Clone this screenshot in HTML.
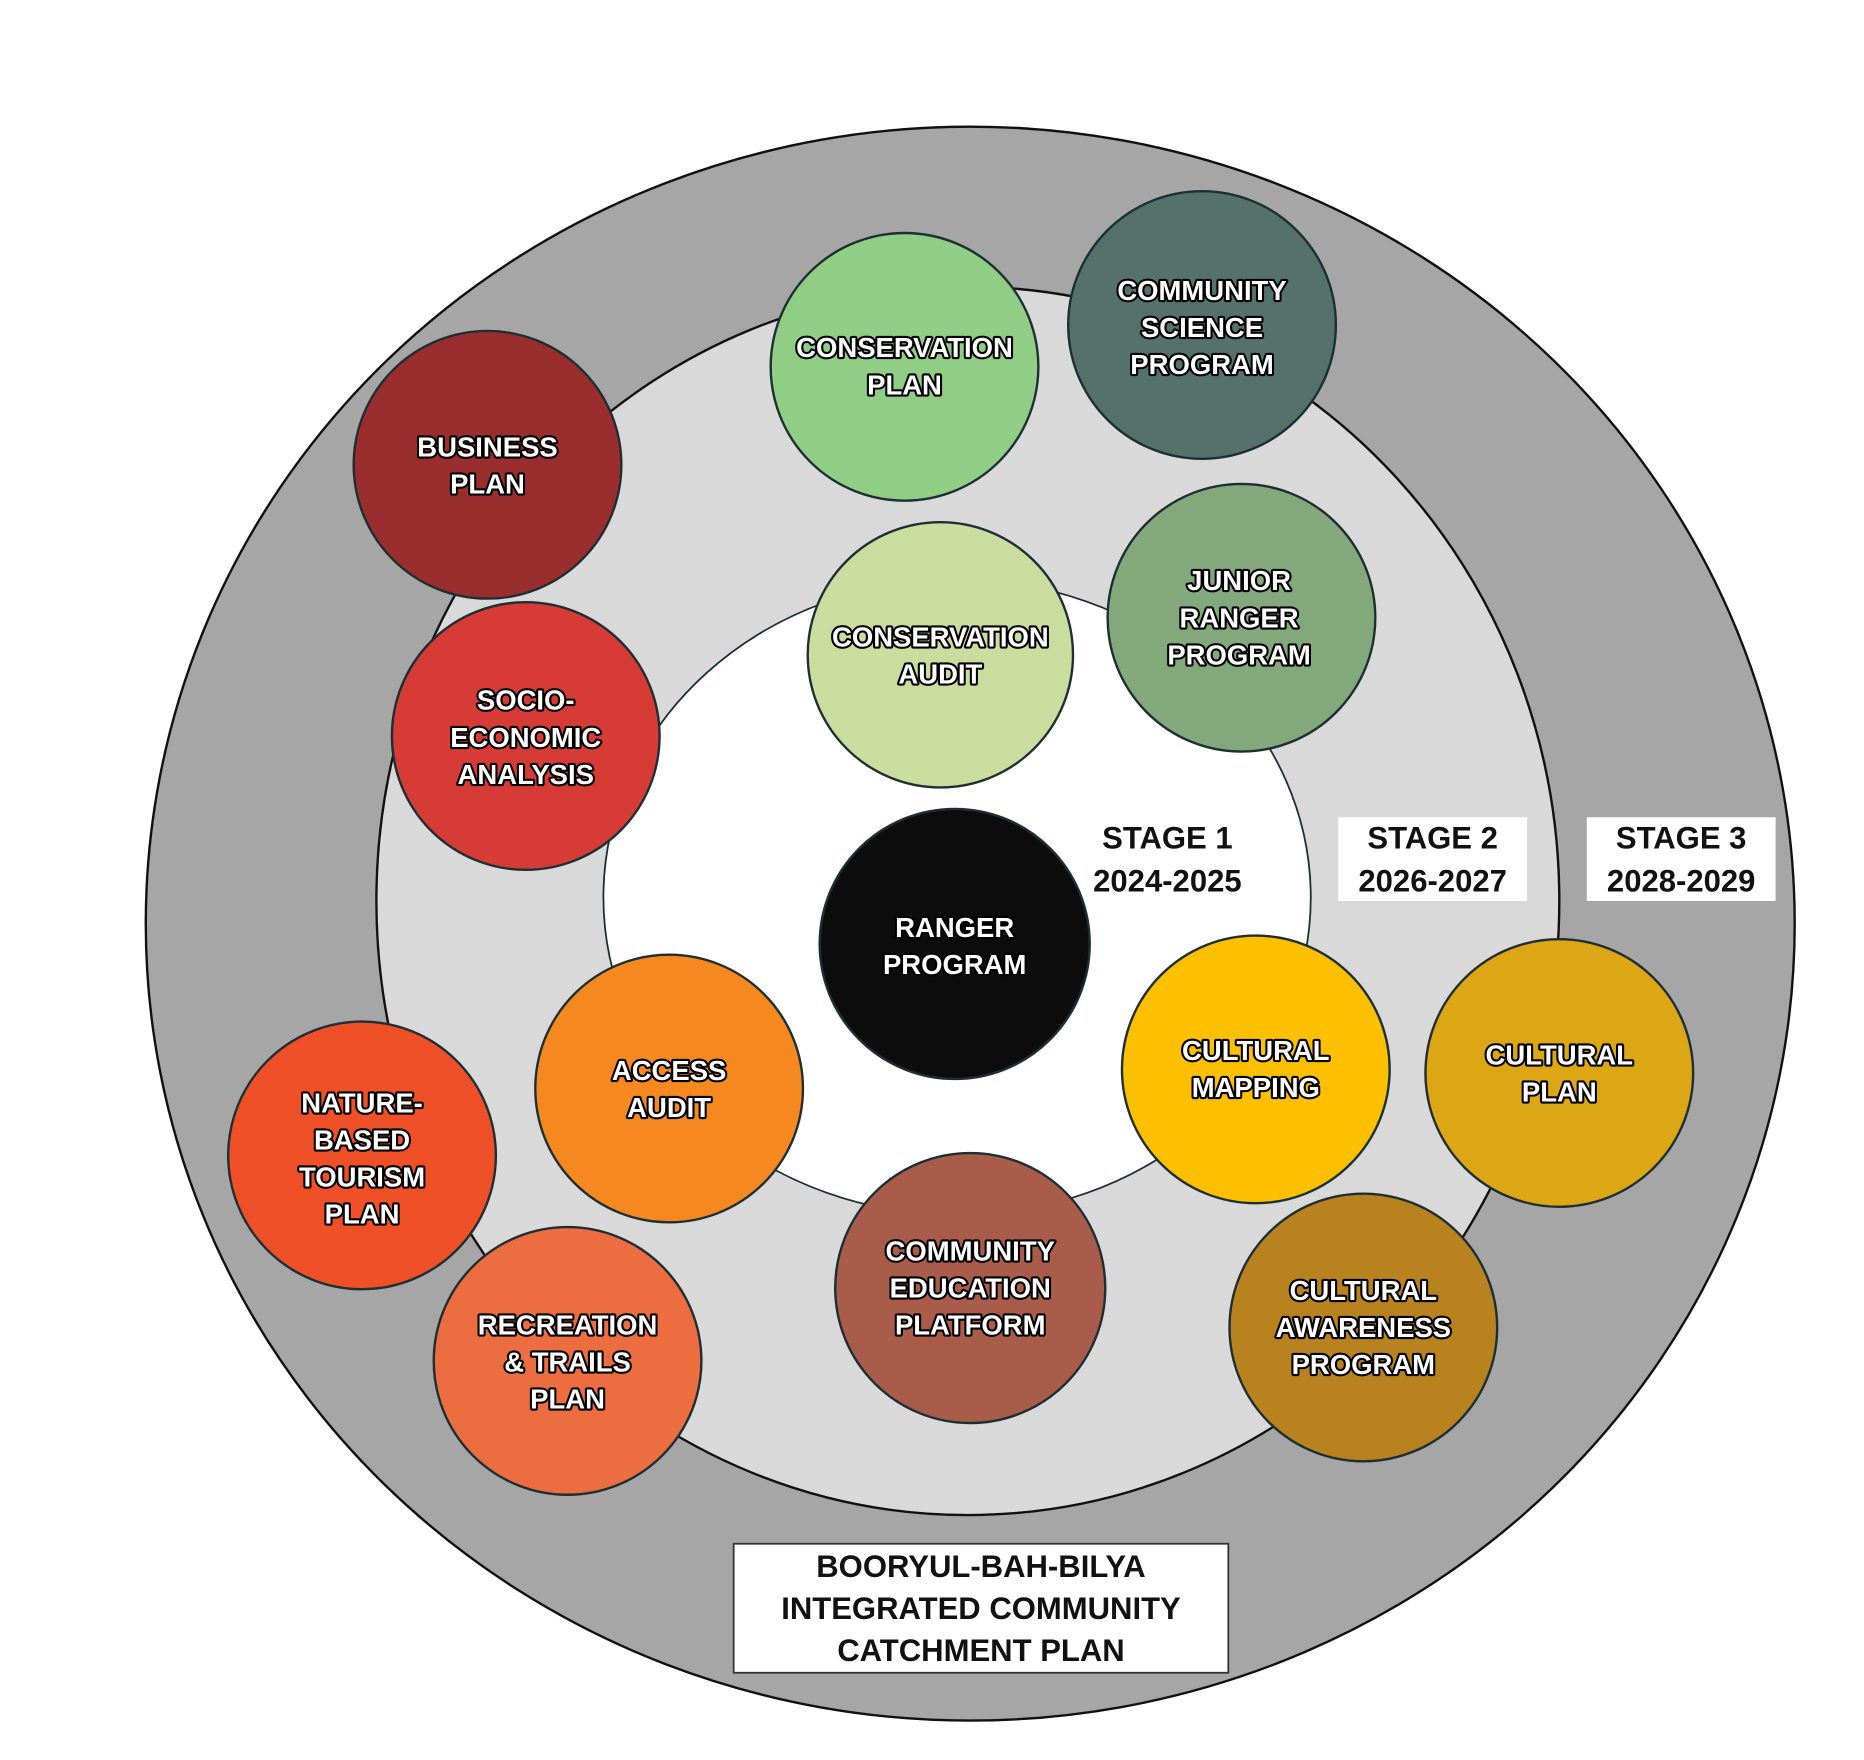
<!DOCTYPE html>
<html><head><meta charset="utf-8"><style>
html,body{margin:0;padding:0;background:#fff;}
svg{display:block}
.t{font-family:"Liberation Sans",sans-serif;font-weight:bold;font-size:23px;fill:#fff;stroke:#000;stroke-width:3.5px;paint-order:stroke;stroke-linejoin:round;text-anchor:middle}
.s{font-family:"Liberation Sans",sans-serif;font-weight:bold;font-size:26px;fill:#111;text-anchor:middle}
.c{stroke:#1e2f33;stroke-width:2}
</style></head><body>
<svg width="1864" height="1760" viewBox="0 0 1560 1473" preserveAspectRatio="none">
<rect width="1560" height="1473" fill="#fff"/>
<ellipse cx="812" cy="773" rx="690" ry="667" fill="#a6a6a6" stroke="#111" stroke-width="2"/>
<ellipse cx="810" cy="754" rx="495" ry="514" fill="#d9d9d9" stroke="#111" stroke-width="2"/>
<ellipse cx="801" cy="751" rx="296" ry="266" fill="#fff" stroke="#1e2f33" stroke-width="1.5"/>

<g class="c">
<circle cx="757" cy="307" r="112" fill="#8fce84"/>
<circle cx="1006" cy="272" r="112" fill="#55726a"/>
<circle cx="408" cy="389" r="112" fill="#9a2e2e"/>
<circle cx="787" cy="548" r="111" fill="#cbdd9e"/>
<circle cx="1039" cy="517" r="112" fill="#83a87c"/>
<circle cx="440" cy="616" r="112" fill="#d63c35"/>
<circle cx="799" cy="790" r="113" fill="#0c0c0c"/>
<circle cx="560" cy="911" r="112" fill="#f5891f"/>
<circle cx="303" cy="967" r="112" fill="#ef5028"/>
<circle cx="1051" cy="895" r="112" fill="#fdc000"/>
<circle cx="1305" cy="898" r="112" fill="#dca614"/>
<circle cx="812" cy="1078" r="113" fill="#a95c4a"/>
<circle cx="475" cy="1139" r="112" fill="#ec6d40"/>
<circle cx="1141" cy="1111" r="112" fill="#b8831f"/>
</g>

<text class="t" x="757" y="299">CONSERVATION</text><text class="t" x="757" y="330">PLAN</text>
<text class="t" x="1006" y="251">COMMUNITY</text><text class="t" x="1006" y="282">SCIENCE</text><text class="t" x="1006" y="313">PROGRAM</text>
<text class="t" x="408" y="382">BUSINESS</text><text class="t" x="408" y="413">PLAN</text>
<text class="t" x="787" y="541">CONSERVATION</text><text class="t" x="787" y="572">AUDIT</text>
<text class="t" x="1037" y="494">JUNIOR</text><text class="t" x="1037" y="525">RANGER</text><text class="t" x="1037" y="556">PROGRAM</text>
<text class="t" x="440" y="594">SOCIO-</text><text class="t" x="440" y="625">ECONOMIC</text><text class="t" x="440" y="656">ANALYSIS</text>
<text class="t" x="799" y="784">RANGER</text><text class="t" x="799" y="815">PROGRAM</text>
<text class="t" x="560" y="904">ACCESS</text><text class="t" x="560" y="935">AUDIT</text>
<text class="t" x="303" y="931">NATURE-</text><text class="t" x="303" y="962">BASED</text><text class="t" x="303" y="993">TOURISM</text><text class="t" x="303" y="1024">PLAN</text>
<text class="t" x="1051" y="887">CULTURAL</text><text class="t" x="1051" y="918">MAPPING</text>
<text class="t" x="1305" y="891">CULTURAL</text><text class="t" x="1305" y="922">PLAN</text>
<text class="t" x="812" y="1055">COMMUNITY</text><text class="t" x="812" y="1086">EDUCATION</text><text class="t" x="812" y="1117">PLATFORM</text>
<text class="t" x="475" y="1117">RECREATION</text><text class="t" x="475" y="1148">&amp; TRAILS</text><text class="t" x="475" y="1179">PLAN</text>
<text class="t" x="1141" y="1088">CULTURAL</text><text class="t" x="1141" y="1119">AWARENESS</text><text class="t" x="1141" y="1150">PROGRAM</text>

<text class="s" x="977" y="710">STAGE 1</text><text class="s" x="977" y="746">2024-2025</text>
<rect x="1120" y="684" width="158" height="70" fill="#fff"/>
<text class="s" x="1199" y="710">STAGE 2</text><text class="s" x="1199" y="746">2026-2027</text>
<rect x="1328" y="684" width="158" height="70" fill="#fff"/>
<text class="s" x="1407" y="710">STAGE 3</text><text class="s" x="1407" y="746">2028-2029</text>

<rect x="614" y="1292" width="414" height="108" fill="#fff" stroke="#333" stroke-width="1.5"/>
<text class="s" x="821" y="1320">BOORYUL-BAH-BILYA</text>
<text class="s" x="821" y="1355">INTEGRATED COMMUNITY</text>
<text class="s" x="821" y="1390">CATCHMENT PLAN</text>
</svg>
</body></html>
